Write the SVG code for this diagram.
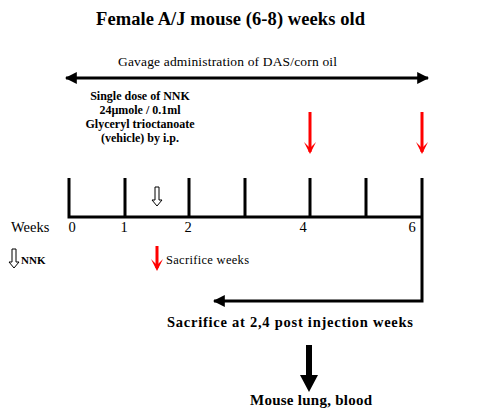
<svg xmlns="http://www.w3.org/2000/svg" width="494" height="420" viewBox="0 0 494 420">
<defs>
<style>
text{font-family:"Liberation Serif","Times New Roman",serif;fill:#000}
.b{font-weight:bold}
.ln{stroke:#000;stroke-width:3;fill:none}
.red{stroke:#f00;stroke-width:3;fill:none}
.hollow{fill:#fff;stroke:#000;stroke-width:1}
</style>
<marker id="ah" viewBox="0 0 10 10" refX="9" refY="5" markerWidth="4" markerHeight="4" orient="auto-start-reverse" markerUnits="strokeWidth"><path d="M0,0 L10,5 L0,10 z" fill="#000"/></marker>
<symbol id="redarrow" overflow="visible"><path d="M0,0 V40" class="red"/><path d="M-6,30 L0,42 L6,30 L0,36 z" fill="#f00"/></symbol>
<symbol id="hollowarrow" overflow="visible"><path d="M-2,0 H2 V13 H5 L0,19 L-5,13 H-2 z" class="hollow"/></symbol>
</defs>
<rect width="494" height="420" fill="#fff"/>
<g id="title"><text class="b" x="96" y="25" font-size="18.5" textLength="269" lengthAdjust="spacing">Female A/J mouse (6-8) weeks old</text></g>
<g id="gavage"><text x="118" y="66" font-size="13.5" textLength="219" lengthAdjust="spacing">Gavage administration of DAS/corn oil</text></g>
<g id="nnk-dose" class="b" font-size="12" text-anchor="middle">
<text class="b" x="140" y="100">Single dose of NNK</text>
<text class="b" x="140" y="114">24µmole / 0.1ml</text>
<text class="b" x="140" y="128">Glyceryl trioctanoate</text>
<text class="b" x="140" y="142">(vehicle) by i.p.</text>
</g>
<g id="timeline">
<path class="ln" d="M69,178 V217 H422 M125,178 V217 M189,178 V217 M245,178 V217 M310,178 V217 M366,178 V217 M422,178 V217"/>
<text x="11" y="232" font-size="14.5">Weeks</text>
<text x="72" y="232" font-size="14.5" text-anchor="middle">0</text>
<text x="124" y="232" font-size="14.5" text-anchor="middle">1</text>
<text x="188" y="232" font-size="14.5" text-anchor="middle">2</text>
<text x="303" y="232" font-size="14.5" text-anchor="middle">4</text>
<text x="412" y="232" font-size="14.5" text-anchor="middle">6</text>
</g>
<g id="nnk-marker"><use href="#hollowarrow" x="157" y="187"/></g>
<g id="sacrifice-4"><use href="#redarrow" x="310" y="112"/></g>
<g id="sacrifice-6"><use href="#redarrow" x="422" y="112"/></g>
<g id="legend-nnk"><use href="#hollowarrow" x="14" y="249"/><text class="b" x="21" y="264" font-size="11">NNK</text></g>
<g id="legend-sacrifice"><path d="M157,246 V268" class="red"/><path d="M151,259 L157,271 L163,259 L157,265 z" fill="#f00"/><text x="166" y="264" font-size="12.5" textLength="83" lengthAdjust="spacing">Sacrifice weeks</text></g>
<g id="connectors">
<path class="ln" d="M66,78 H428" marker-start="url(#ah)" marker-end="url(#ah)"/>
<path class="ln" d="M422,217 V301 H214" marker-end="url(#ah)"/>
<path d="M306,345 H312 V375 H318 L309,392 L300,375 H306 z" fill="#000"/>
</g>
<g id="sacrifice-text"><text class="b" x="167" y="327" font-size="14.5" textLength="246" lengthAdjust="spacing">Sacrifice at 2,4 post injection weeks</text></g>
<g id="result"><text class="b" x="250" y="405" font-size="15" textLength="122" lengthAdjust="spacing">Mouse lung, blood</text></g>
</svg>
